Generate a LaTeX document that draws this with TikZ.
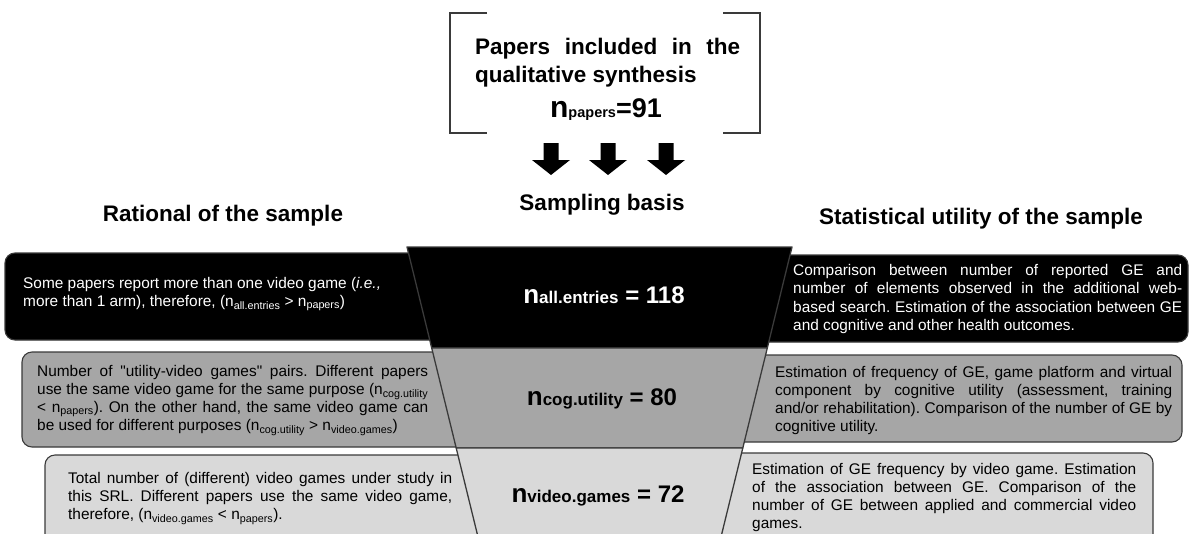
\documentclass[tikz,border=0pt]{standalone}
\usepackage{fontspec}
\setmainfont{Liberation Sans}
\hyphenpenalty=10000
\tolerance=9999
\emergencystretch=10pt
\frenchspacing
\definecolor{midgray}{HTML}{A6A6A6}
\definecolor{lightgray}{HTML}{D9D9D9}
\definecolor{edgegray}{HTML}{3A3A3A}
\newcommand{\fnlab}[2]{\bfseries{\fontsize{26}{26}\selectfont n}{\fontsize{17}{17}\selectfont #1}{\fontsize{24}{24}\selectfont\ = #2}}
\begin{document}
\begin{tikzpicture}[x=1pt,y=-1pt,
  body/.style={font=\fontsize{15.4}{18.3}\selectfont, execute at begin node={\spaceskip=4.28pt plus 15pt\relax}, inner sep=0pt, anchor=west, align=justify},
  head/.style={font=\fontsize{22.5}{27}\selectfont\bfseries, inner sep=0pt, anchor=base},
  rbox/.style={rounded corners=10pt, draw=edgegray, line width=1.1pt},
  tier/.style={draw=edgegray, line width=1.3pt, line join=round},
  bracket/.style={draw=edgegray, line width=1.5pt},
  blockarrow/.style={fill=black}]
\useasboundingbox (0,0) rectangle (1190,533);
\clip (0,0) rectangle (1190,533);
% top bracket and text
\draw[bracket] (487,13) -- (450,13) -- (450,133) -- (487,133);
\draw[bracket] (723,13) -- (760,13) -- (760,133) -- (723,133);
\node[inner sep=0pt, anchor=base west, font=\fontsize{22.5}{27}\selectfont\bfseries] (t1) at (475,54) {\makebox[265pt][s]{Papers included in the}};
\node[inner sep=0pt, anchor=base west, font=\fontsize{22.5}{27}\selectfont\bfseries] (t2) at (475,82) {qualitative synthesis};
\node[inner sep=0pt, anchor=base, font=\bfseries] (t3) at (606,117) {{\fontsize{30}{30}\selectfont n}{\fontsize{14.5}{14.5}\selectfont papers}{\fontsize{27}{27}\selectfont =91}};
% arrows
\foreach \ax in {551,608,666}{
  \fill[blockarrow] (\ax-7.5,143) -- (\ax+7.5,143) -- (\ax+7.5,160) -- (\ax+19,160) -- (\ax,175) -- (\ax-19,160) -- (\ax-7.5,160) -- cycle;
}
% headings
\node[head] (hl) at (223,221.5) {Rational of the sample};
\node[head] (hc) at (602,210.5) {Sampling basis};
\node[head] (hr) at (981,224) {Statistical utility of the sample};
% side boxes
\path[rbox, fill=black] (5,253) rectangle (640,340);
\path[rbox, fill=black] (560,255) rectangle (1188,342);
\path[rbox, fill=midgray] (22,352) rectangle (640,447);
\path[rbox, fill=midgray] (560,355) rectangle (1182,442);
\path[rbox, fill=lightgray] (45,455) rectangle (640,570);
\path[rbox, fill=lightgray] (560,453) rectangle (1153,570);
% funnel
\filldraw[tier, fill=black] (407,247) -- (792,247) -- (767.3,348) -- (431.7,348) -- cycle;
\filldraw[tier, fill=midgray] (431.7,348) -- (767.3,348) -- (742.8,448) -- (456.2,448) -- cycle;
\filldraw[tier, fill=lightgray] (456.2,448) -- (742.8,448) -- (717.8,550) -- (481.2,550) -- cycle;
\node[inner sep=0pt, anchor=base, text=white] (f1) at (604,303) {\fnlab{all.entries}{118}};
\node[inner sep=0pt, anchor=base] (f2) at (602,405) {\fnlab{cog.utility}{80}};
\node[inner sep=0pt, anchor=base] (f3) at (598,502) {\fnlab{video.games}{72}};
% left texts
\node[body, text width=385pt, align=flush left, text=white] (l1) at (23,294) {Some papers report more than one video game (\textit{i.e.,} more than 1 arm), therefore, (n\textsubscript{all.entries} > n\textsubscript{papers})};
\node[body, text width=391pt] (l2) at (37,400.5) {Number of \textquotedbl utility-video games\textquotedbl{} pairs. Different papers use the same video game for the same purpose (n\textsubscript{cog.utility} < n\textsubscript{papers}). On the other hand, the same video game can be used for different purposes (n\textsubscript{cog.utility} > n\textsubscript{video.games})};
\node[body, text width=384pt] (l3) at (68,498.5) {Total number of (different) video games under study in this SRL. Different papers use the same video game, therefore, (n\textsubscript{video.games} < n\textsubscript{papers}).};
% right texts
\node[body, text width=389pt, text=white] (r1) at (793,299) {Comparison between number of reported GE and number of elements observed in the additional web-based search. Estimation of the association between GE and cognitive and other health outcomes.};
\node[body, text width=397pt] (r2) at (775,400.5) {Estimation of frequency of GE, game platform and virtual component by cognitive utility (assessment, training and/or rehabilitation). Comparison of the number of GE by cognitive utility.};
\node[body, text width=384pt] (r3) at (752,497.5) {Estimation of GE frequency by video game. Estimation of the association between GE. Comparison of the number of GE between applied and commercial video games.};
\end{tikzpicture}
\end{document}
